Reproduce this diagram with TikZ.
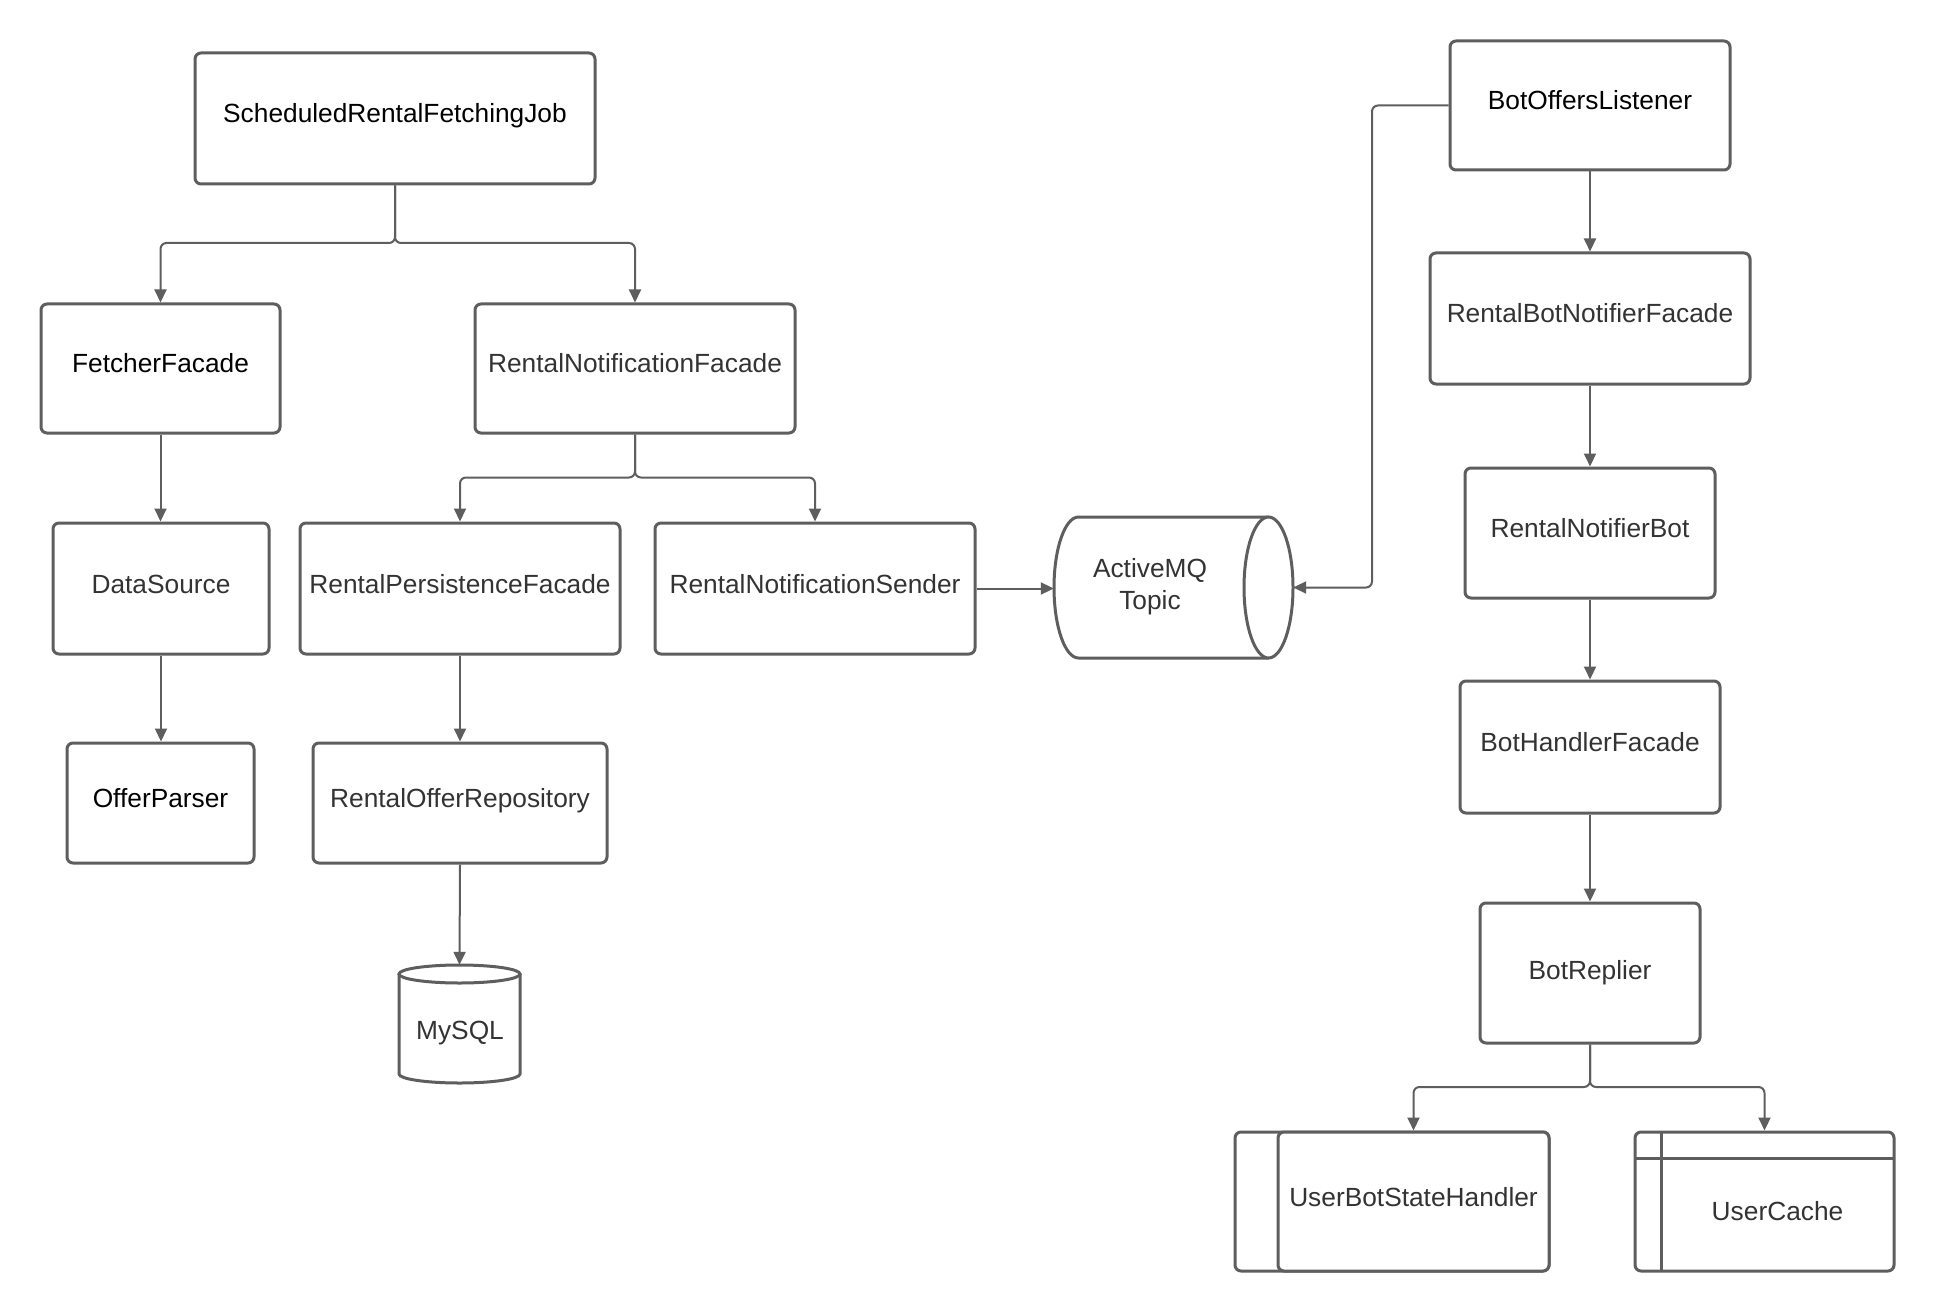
\documentclass[tikz,border=0pt]{standalone}
\usepackage{fontspec}
\setmainfont{Liberation Sans}
\usetikzlibrary{arrows.meta}
\definecolor{linec}{HTML}{5E5E5E}
\definecolor{txtc}{HTML}{333333}
\begin{document}
\begin{tikzpicture}[x=1pt,y=1pt,
  box/.style={draw=linec, line width=3pt, rounded corners=6pt, fill=white, inner sep=0pt,
    font=\fontsize{26.3}{32}\selectfont, text=txtc, text height=19pt, text depth=10pt},
  dark/.style={text=black},
  shapeline/.style={draw=linec, line width=3pt},
  txt/.style={font=\fontsize{26.3}{32}\selectfont, text=txtc, inner sep=0pt, align=center},
  area/.style={inner sep=0pt},
  conn/.style={draw=linec, line width=2pt, rounded corners=6pt, -{Triangle[length=13pt,width=12pt]}}]
\useasboundingbox (0,0) rectangle (1935,-1313);
\fill[white] (0,0) rectangle (1935,-1313);

% left part
\node[box, dark, minimum width=400, minimum height=131] (srfj) at (395,-118.5) {ScheduledRentalFetchingJob};
\node[box, dark, minimum width=239, minimum height=129] (ff) at (160.5,-368.5) {FetcherFacade};
\node[box, minimum width=320, minimum height=129] (rnf) at (635,-368.5) {RentalNotificationFacade};
\node[box, minimum width=216, minimum height=131] (ds) at (161,-588.5) {DataSource};
\node[box, dark, minimum width=187, minimum height=120] (op) at (160.5,-803) {OfferParser};
\node[box, minimum width=320, minimum height=131] (rpf) at (460,-588.5) {RentalPersistenceFacade};
\node[box, minimum width=320, minimum height=131] (rns) at (815,-588.5) {RentalNotificationSender};
\node[box, minimum width=294, minimum height=120] (ror) at (460,-803) {RentalOfferRepository};

% MySQL cylinder
\node[area, minimum width=121, minimum height=118] (mysql) at (459.5,-1024) {};
\filldraw[shapeline, fill=white] (399,-974) -- (399,-1074)
  arc[start angle=180, end angle=360, x radius=60.5, y radius=9] -- (520,-974);
\filldraw[shapeline, fill=white] (459.5,-974) ellipse [x radius=60.5, y radius=9];
\node[txt] (mysqltext) at (460,-1033) {MySQL};

% ActiveMQ cylinder
\node[area, minimum width=239, minimum height=141] (mq) at (1173.5,-587.5) {};
\filldraw[shapeline, fill=white] (1268.5,-517) -- (1078.5,-517)
  arc[start angle=90, end angle=270, x radius=24.5, y radius=70.5] -- (1268.5,-658);
\filldraw[shapeline, fill=white] (1268.5,-587.5) ellipse [x radius=24.5, y radius=70.5];
\node[txt] (mqtext) at (1150,-587) {ActiveMQ\\Topic};

% right part
\node[box, dark, minimum width=280, minimum height=129] (bol) at (1590,-105.5) {BotOffersListener};
\node[box, minimum width=320, minimum height=131] (rbnf) at (1590,-318.5) {RentalBotNotifierFacade};
\node[box, minimum width=250, minimum height=130] (rnb) at (1590,-533) {RentalNotifierBot};
\node[box, minimum width=260, minimum height=132] (bhf) at (1590,-747) {BotHandlerFacade};
\node[box, minimum width=220, minimum height=140, text depth=7pt] (br) at (1590,-973) {BotReplier};

% UserBotStateHandler
\draw[shapeline, rounded corners=6pt, fill=white] (1235,-1132) rectangle (1549,-1271);
\node[box, minimum width=271, minimum height=139] (ubsh) at (1413.5,-1201.5) {UserBotStateHandler};

% UserCache
\node[box, minimum width=259, minimum height=139] (uc) at (1764.5,-1201.5) {};
\draw[shapeline] (1661,-1132) -- (1661,-1271);
\draw[shapeline] (1635,-1158) -- (1894,-1158);
\node[txt] (uctext) at (1777.5,-1211) {UserCache};

% connectors
\draw[conn] (srfj.south) -- (395,-243) -| (ff.north);
\draw[conn] (srfj.south) -- (395,-243) -| (rnf.north);
\draw[conn] (ff.south) -- (ff.south |- ds.north);
\draw[conn] (ds.south) -- (ds.south |- op.north);
\draw[conn] (rnf.south) -- (635,-477.5) -| (rpf.north);
\draw[conn] (rnf.south) -- (635,-477.5) -| (rns.north);
\draw[conn] (rpf.south) -- (ror.north);
\draw[conn] (ror.south) -- (mysql.north);
\draw[conn] (rns.east) -- (rns.east -| mq.west);
\draw[conn] (bol.west) -- (1372,-105.5) |- (mq.east);
\draw[conn] (bol.south) -- (rbnf.north);
\draw[conn] (rbnf.south) -- (rnb.north);
\draw[conn] (rnb.south) -- (bhf.north);
\draw[conn] (bhf.south) -- (br.north);
\draw[conn] (br.south) -- (1590,-1087) -| (ubsh.north);
\draw[conn] (br.south) -- (1590,-1087) -| (uc.north);
\end{tikzpicture}
\end{document}
